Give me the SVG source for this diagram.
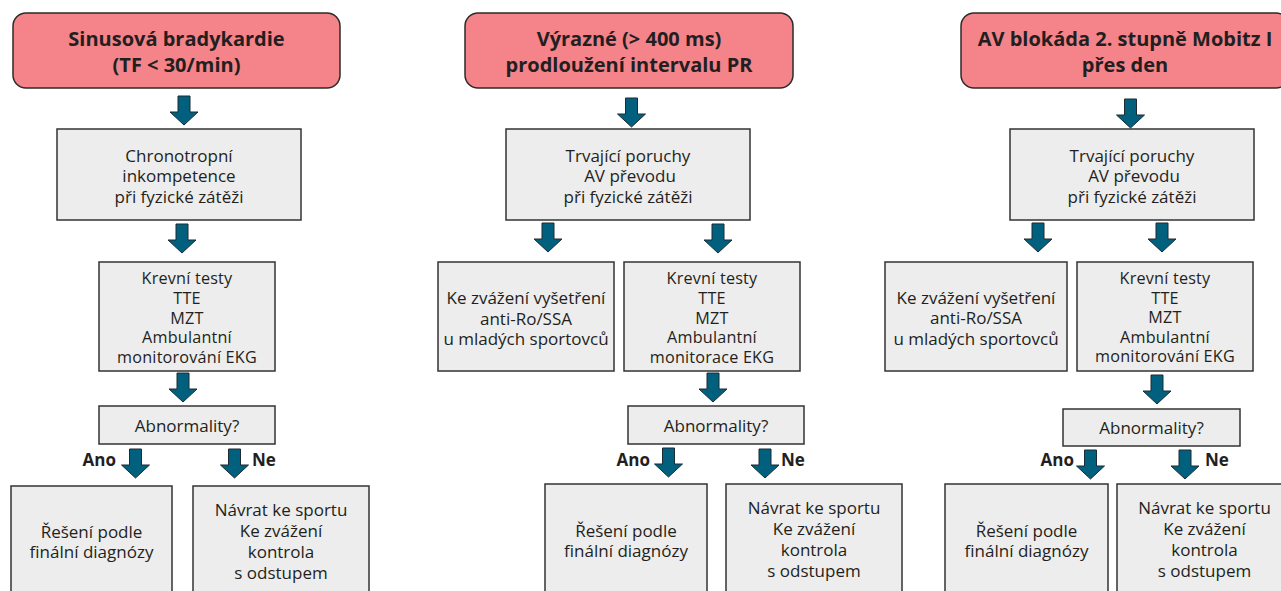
<svg xmlns="http://www.w3.org/2000/svg" xmlns:xlink="http://www.w3.org/1999/xlink" width="1281" height="591" viewBox="0 0 1281 591">
<style>
.hd{fill:#f4838a;stroke:#2b2b2b;stroke-width:1.5}
.bx{fill:#ededed;stroke:#333;stroke-width:1.5}
.h{font-family:"Open Sans","Noto Sans",sans-serif;font-weight:bold;font-size:20px;fill:#231f20;text-anchor:middle}
.t{font-family:"Open Sans","Noto Sans",sans-serif;font-size:17px;fill:#231f20;text-anchor:middle}
.s{font-size:16.2px;letter-spacing:0.2px}
.l{font-family:"Open Sans","Noto Sans",sans-serif;font-weight:bold;font-size:17px;fill:#231f20}
.ar{fill:#00607e;stroke:#1d2b33;stroke-width:1}
</style>
<defs>
<path id="arr" class="ar" d="M-6,0 H6 V16 H14 L0,29 L-14,16 H-6 Z"/>
</defs>
<rect width="1281" height="591" fill="#fff"/>
<g id="connectors">
<use xlink:href="#arr" x="184" y="96"/>
<use xlink:href="#arr" x="182" y="224"/>
<use xlink:href="#arr" x="183" y="373"/>
<use xlink:href="#arr" x="135.5" y="449"/>
<use xlink:href="#arr" x="234.5" y="449"/>
<use xlink:href="#arr" x="631.5" y="98"/>
<use xlink:href="#arr" x="548" y="223"/>
<use xlink:href="#arr" x="718" y="224"/>
<use xlink:href="#arr" x="713" y="373"/>
<use xlink:href="#arr" x="668.5" y="448"/>
<use xlink:href="#arr" x="765" y="449"/>
<use xlink:href="#arr" x="1130.5" y="99"/>
<use xlink:href="#arr" x="1038" y="223"/>
<use xlink:href="#arr" x="1162" y="223"/>
<use xlink:href="#arr" x="1157" y="375"/>
<use xlink:href="#arr" x="1090.5" y="450"/>
<use xlink:href="#arr" x="1185" y="450"/>
<text class="l" x="116" y="466" text-anchor="end">Ano</text>
<text class="l" x="252" y="466">Ne</text>
<text class="l" x="650" y="466" text-anchor="end">Ano</text>
<text class="l" x="781" y="466">Ne</text>
<text class="l" x="1074" y="466" text-anchor="end">Ano</text>
<text class="l" x="1205" y="466">Ne</text>
</g>
<!-- Column 1 -->
<g id="c1-head"><rect class="hd" x="13" y="13" width="327" height="75" rx="13"/>
<text class="h" x="176.5" y="46">Sinusová bradykardie</text><text class="h" x="176.5" y="72">(TF &lt; 30/min)</text></g>
<g id="c1-chrono"><rect class="bx" x="57" y="129" width="244" height="91"/>
<text class="t" x="179" y="161.5">Chronotropní</text><text class="t" x="179" y="182">inkompetence</text><text class="t" x="179" y="202.5">při fyzické zátěži</text></g>
<g id="c1-tests"><rect class="bx" x="99" y="262" width="176" height="109"/>
<text class="t s" x="187" y="284.4">Krevní testy</text><text class="t s" x="187" y="304">TTE</text><text class="t s" x="187" y="323.6">MZT</text><text class="t s" x="187" y="343.2">Ambulantní</text><text class="t s" x="187" y="362.8">monitorování EKG</text></g>
<g id="c1-abn"><rect class="bx" x="99" y="406" width="176" height="38"/>
<text class="t" x="187" y="432">Abnormality?</text></g>
<g id="c1-yes"><rect class="bx" x="11" y="486" width="161" height="120"/>
<text class="t" x="91.5" y="537.5">Řešení podle</text><text class="t" x="91.5" y="558">finální diagnózy</text></g>
<g id="c1-no"><rect class="bx" x="193" y="486" width="176" height="120"/>
<text class="t" x="281" y="516">Návrat ke sportu</text><text class="t" x="281" y="537">Ke zvážení</text><text class="t" x="281" y="558">kontrola</text><text class="t" x="281" y="579">s odstupem</text></g>
<!-- Column 2 -->
<g id="c2-head"><rect class="hd" x="465" y="13" width="328" height="75" rx="13"/>
<text class="h" x="629" y="46">Výrazné (&gt; 400 ms)</text><text class="h" x="629" y="72">prodloužení intervalu PR</text></g>
<g id="c2-av"><rect class="bx" x="506" y="129" width="244" height="91"/>
<text class="t" x="628" y="161.5">Trvající poruchy</text><text class="t" x="630" y="182">AV převodu</text><text class="t" x="628" y="202.5">při fyzické zátěži</text></g>
<g id="c2-ro"><rect class="bx" x="438" y="262" width="176" height="109"/>
<text class="t" x="526" y="304">Ke zvážení vyšetření</text><text class="t" x="526" y="324.5">anti-Ro/SSA</text><text class="t" x="526" y="345">u mladých sportovců</text></g>
<g id="c2-tests"><rect class="bx" x="624" y="262" width="176" height="109"/>
<text class="t s" x="712" y="284.4">Krevní testy</text><text class="t s" x="712" y="304">TTE</text><text class="t s" x="712" y="323.6">MZT</text><text class="t s" x="712" y="343.2">Ambulantní</text><text class="t s" x="712" y="362.8">monitorace EKG</text></g>
<g id="c2-abn"><rect class="bx" x="628" y="406" width="176" height="38"/>
<text class="t" x="716" y="432">Abnormality?</text></g>
<g id="c2-yes"><rect class="bx" x="545" y="484" width="162" height="120"/>
<text class="t" x="626" y="536.5">Řešení podle</text><text class="t" x="626" y="557">finální diagnózy</text></g>
<g id="c2-no"><rect class="bx" x="726" y="484" width="176" height="120"/>
<text class="t" x="814" y="514">Návrat ke sportu</text><text class="t" x="814" y="535">Ke zvážení</text><text class="t" x="814" y="556">kontrola</text><text class="t" x="814" y="577">s odstupem</text></g>
<!-- Column 3 -->
<g id="c3-head"><rect class="hd" x="961" y="13" width="328" height="75" rx="13"/>
<text class="h" x="1125" y="46">AV blokáda 2. stupně Mobitz I</text><text class="h" x="1125" y="72">přes den</text></g>
<g id="c3-av"><rect class="bx" x="1010" y="129" width="244" height="91"/>
<text class="t" x="1132" y="161.5">Trvající poruchy</text><text class="t" x="1134" y="182">AV převodu</text><text class="t" x="1132" y="202.5">při fyzické zátěži</text></g>
<g id="c3-ro"><rect class="bx" x="885" y="262" width="182" height="109"/>
<text class="t" x="976" y="303.5">Ke zvážení vyšetření</text><text class="t" x="976" y="324">anti-Ro/SSA</text><text class="t" x="976" y="344.5">u mladých sportovců</text></g>
<g id="c3-tests"><rect class="bx" x="1077" y="262" width="176" height="109"/>
<text class="t s" x="1165" y="284">Krevní testy</text><text class="t s" x="1165" y="303.6">TTE</text><text class="t s" x="1165" y="323.2">MZT</text><text class="t s" x="1165" y="342.8">Ambulantní</text><text class="t s" x="1165" y="362.4">monitorování EKG</text></g>
<g id="c3-abn"><rect class="bx" x="1063" y="409" width="177" height="37"/>
<text class="t" x="1151.5" y="434">Abnormality?</text></g>
<g id="c3-yes"><rect class="bx" x="945" y="484" width="163" height="120"/>
<text class="t" x="1026.5" y="536.5">Řešení podle</text><text class="t" x="1026.5" y="557">finální diagnózy</text></g>
<g id="c3-no"><rect class="bx" x="1117" y="484" width="175" height="120"/>
<text class="t" x="1204.5" y="514">Návrat ke sportu</text><text class="t" x="1204.5" y="535">Ke zvážení</text><text class="t" x="1204.5" y="556">kontrola</text><text class="t" x="1204.5" y="577">s odstupem</text></g>
</svg>
